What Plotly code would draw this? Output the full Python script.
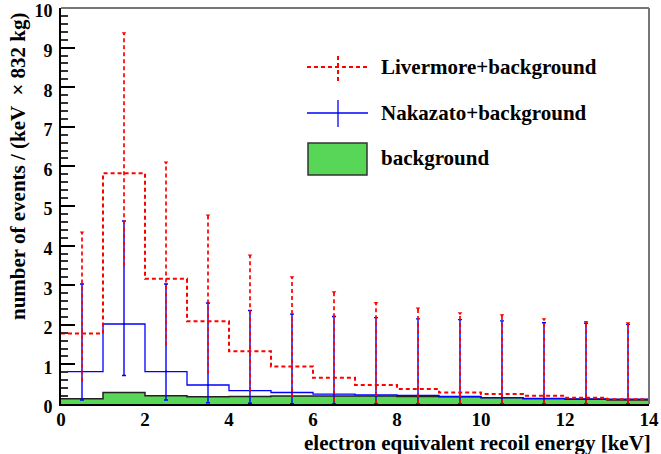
import plotly.graph_objects as go

# ---- data ----
bin_edges = [0, 1, 2, 3, 4, 5, 6, 7, 8, 9, 10, 11, 12, 13, 14]
bin_centers = [0.5, 1.5, 2.5, 3.5, 4.5, 5.5, 6.5, 7.5, 8.5, 9.5, 10.5, 11.5, 12.5, 13.5]

background = [0.13, 0.29, 0.21, 0.18, 0.19, 0.20, 0.20, 0.20, 0.19, 0.18, 0.16, 0.13, 0.12, 0.10]

nakazato = [0.82, 2.02, 0.82, 0.48, 0.34, 0.29, 0.25, 0.23, 0.22, 0.19, 0.16, 0.14, 0.13, 0.12]
nakazato_hi = [3.03, 4.62, 3.03, 2.55, 2.36, 2.27, 2.21, 2.18, 2.15, 2.13, 2.10, 2.05, 2.04, 2.01]
nakazato_lo = [0.10, 0.72, 0.10, 0.03, 0.02, 0.01, 0.0, 0.0, 0.0, 0.0, 0.0, 0.0, 0.0, 0.0]

livermore = [1.78, 5.83, 3.16, 2.09, 1.33, 0.95, 0.66, 0.48, 0.38, 0.29, 0.25, 0.21, 0.16, 0.12]
livermore_hi = [4.33, 9.36, 6.10, 4.76, 3.75, 3.20, 2.82, 2.55, 2.41, 2.29, 2.24, 2.14, 2.07, 2.04]
livermore_lo = [0.57, 3.48, 1.48, 0.77, 0.32, 0.15, 0.07, 0.02, 0.0, 0.0, 0.0, 0.0, 0.0, 0.0]

x_ticks = [0, 2, 4, 6, 8, 10, 12, 14]
y_ticks = [0, 1, 2, 3, 4, 5, 6, 7, 8, 9, 10]

legend_labels = ["Livermore+background", "Nakazato+background", "background"]
x_title = "electron equivalent recoil energy [keV]"
y_title = "number of events / (keV  \u00d7 832 kg)"

RED = "#ff0000"
BLUE = "#0000ff"
GREEN = "#57d657"
FONT = "Liberation Serif"


def step(vals):
    return list(vals) + [vals[-1]]


def bars(centers, lo, hi):
    xs, ys = [], []
    for c, l, h in zip(centers, lo, hi):
        xs += [c, c, None]
        ys += [l, h, None]
    return xs, ys


fig = go.Figure()

# background histogram (filled)
fig.add_trace(go.Scatter(
    x=bin_edges, y=step(background), mode="lines", line_shape="hv",
    line=dict(color="#222222", width=1.5), fill="tozeroy", fillcolor=GREEN,
    showlegend=False, hoverinfo="skip"))

# Nakazato histogram
fig.add_trace(go.Scatter(
    x=bin_edges, y=step(nakazato), mode="lines", line_shape="hv",
    line=dict(color=BLUE, width=1.3), showlegend=False, hoverinfo="skip"))

# Nakazato error bars
fig.add_trace(go.Scatter(
    x=bin_centers, y=nakazato, mode="markers",
    marker=dict(color=BLUE, size=2),
    error_y=dict(type="data", symmetric=False,
                 array=[h - v for h, v in zip(nakazato_hi, nakazato)],
                 arrayminus=[v - l for v, l in zip(nakazato, nakazato_lo)],
                 color=BLUE, thickness=1.4, width=2),
    showlegend=False, hoverinfo="skip"))

# Livermore histogram
fig.add_trace(go.Scatter(
    x=bin_edges, y=step(livermore), mode="lines", line_shape="hv",
    line=dict(color=RED, width=2, dash="4px,3px"), showlegend=False, hoverinfo="skip"))

# Livermore error bars (dashed)
ex, ey = bars(bin_centers, livermore_lo, livermore_hi)
fig.add_trace(go.Scatter(
    x=ex, y=ey, mode="lines", line=dict(color=RED, width=2, dash="4px,3px"),
    opacity=0.85, showlegend=False, hoverinfo="skip"))
fig.add_trace(go.Scatter(
    x=bin_centers, y=livermore_hi, mode="markers",
    marker=dict(symbol="triangle-down", size=4, color=RED),
    showlegend=False, hoverinfo="skip"))

# ---- manual legend (paper coordinates) ----
W, H = 661, 454
L, R, T, B = 61, 12, 8, 50
pw, ph = W - L - R, H - T - B


def px(xp):
    return (xp - L) / pw


def py(yp):
    return 1 - (yp - T) / ph


shapes = []
# Livermore entry
shapes.append(dict(type="line", xref="paper", yref="paper", x0=px(307), x1=px(368), y0=py(67), y1=py(67),
                   line=dict(color=RED, width=2, dash="4px,3px")))
shapes.append(dict(type="line", xref="paper", yref="paper", x0=px(338), x1=px(338), y0=py(56), y1=py(82),
                   line=dict(color=RED, width=2, dash="4px,3px")))
# Nakazato entry
shapes.append(dict(type="line", xref="paper", yref="paper", x0=px(307), x1=px(368), y0=py(113), y1=py(113),
                   line=dict(color=BLUE, width=1.3)))
shapes.append(dict(type="line", xref="paper", yref="paper", x0=px(338), x1=px(338), y0=py(100), y1=py(127),
                   line=dict(color=BLUE, width=1.3)))
# background entry
shapes.append(dict(type="rect", xref="paper", yref="paper", x0=px(308), x1=px(367), y0=py(175), y1=py(143),
                   line=dict(color="#333333", width=1.5), fillcolor=GREEN))
# frame top/right (grey)
shapes.append(dict(type="line", xref="paper", yref="paper", x0=0, x1=1, y0=1, y1=1,
                   line=dict(color="#777777", width=2)))
shapes.append(dict(type="line", xref="paper", yref="paper", x0=1, x1=1, y0=0, y1=1,
                   line=dict(color="#777777", width=2)))

annotations = []
for lab, yp in zip(legend_labels, [67, 113, 158]):
    annotations.append(dict(text=lab, xref="paper", yref="paper", x=px(379), y=py(yp),
                            xanchor="left", yanchor="middle", showarrow=False,
                            font=dict(family=FONT, size=21, color="black", weight="bold")))
annotations.append(dict(text=x_title, xref="paper", yref="paper", x=1, y=0, xanchor="right", yanchor="middle",
                        xshift=4, yshift=-39, showarrow=False,
                        font=dict(family=FONT, size=21, color="black", weight="bold")))
annotations.append(dict(text=y_title, xref="paper", yref="paper", x=0, y=1, xanchor="center", yanchor="top",
                        xshift=-43, yshift=-2, textangle=-90, showarrow=False,
                        font=dict(family=FONT, size=21, color="black", weight="bold")))

fig.update_layout(
    width=W, height=H,
    margin=dict(l=L, r=R, t=T, b=B, autoexpand=False),
    paper_bgcolor="white", plot_bgcolor="white",
    showlegend=False,
    shapes=shapes, annotations=annotations,
    xaxis=dict(range=[0, 14], tickvals=x_ticks, ticks="", showgrid=False, zeroline=False,
               automargin=False, showline=True, linecolor="black", linewidth=2,
               ticklabeloverflow="allow", ticklabelstandoff=-3,
               tickfont=dict(family=FONT, size=19, color="black", weight="bold")),
    yaxis=dict(range=[0, 10], tickvals=y_ticks, ticks="inside", ticklen=14, tickwidth=1.5,
               tickcolor="black", showgrid=False, zeroline=False, automargin=False,
               showline=True, linecolor="black", linewidth=2, ticklabelstandoff=3,
               ticklabeloverflow="allow", ticklabelshift=3,
               minor=dict(ticks="inside", ticklen=7, dtick=0.2, tickcolor="#333333", tickwidth=1.5),
               tickfont=dict(family=FONT, size=18, color="black", weight="bold")),
)

fig.write_html("out.html", config={"displayModeBar": False},
               post_script="document.body.style.margin='0';document.body.style.padding='0';")
